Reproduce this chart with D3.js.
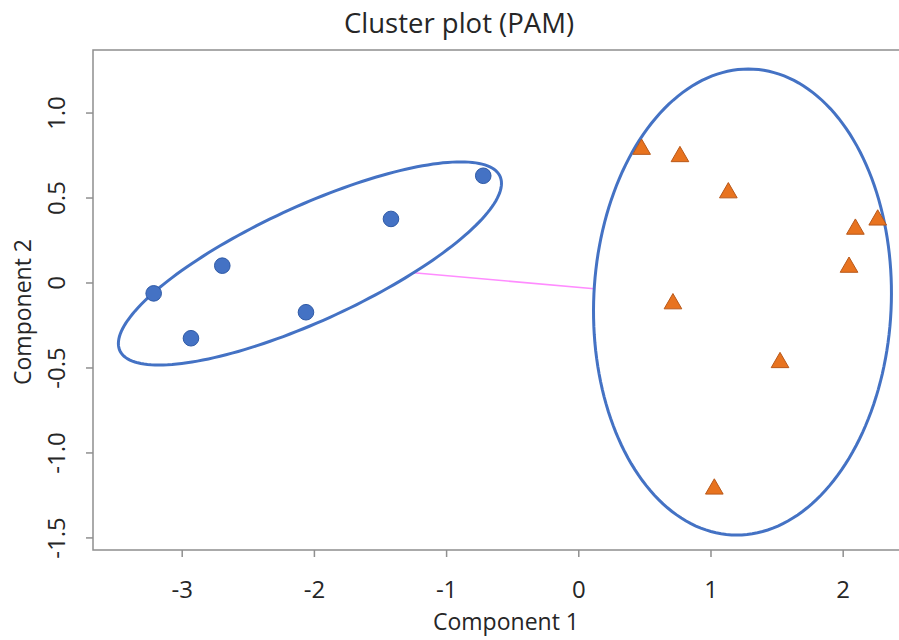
<!DOCTYPE html>
<html>
<head>
<meta charset="UTF-8">
<script src="https://cdn.jsdelivr.net/npm/d3@7"></script>
<style>
  body { margin: 0; background: #fff; }
  text { font-family: "Open Sans", sans-serif; fill: #262626; }
</style>
</head>
<body>
<div id="chart"></div>
<script>
// cluster 1 (circles)
var c1x = [-3.212, -2.930, -2.693, -2.060, -1.417, -0.719];
var c1y = [-0.064, -0.328, 0.099, -0.175, 0.374, 0.628];
// cluster 2 (triangles)
var c2x = [0.479, 0.769, 1.135, 2.265, 2.096, 2.048, 0.716, 1.526, 1.029];
var c2y = [0.784, 0.741, 0.528, 0.368, 0.314, 0.090, -0.125, -0.471, -1.215];
// spanning ellipses: center and two conjugate semi-axes (data units)
var ellCenters = [[-2.03, 0.112], [1.242, -0.115]];
var ellAxisA = [[1.449, 0.471], [1.126, 0]];
var ellAxisB = [[0, 0.368], [0.044, 1.371]];

var xTicks = [-3, -2, -1, 0, 1, 2];
var yTicks = [-1.5, -1.0, -0.5, 0, 0.5, 1.0];

var width = 899, height = 640;
var padL = 93, padR = 899, padT = 50, padB = 550;

var svg = d3.select("#chart").append("svg")
    .attr("width", width)
    .attr("height", height);

var x = d3.scaleLinear().domain([-3.671, 2.426]).range([padL, padR]);
var y = d3.scaleLinear().domain([-1.574, 1.368]).range([padB, padT]);

// frame (right side is cut off)
svg.append("path")
    .attr("d", "M" + padR + "," + padT + "H" + padL + "V" + padB + "H" + padR)
    .attr("fill", "none")
    .attr("stroke", "#8f8f8f")
    .attr("stroke-width", 1.5);

var fmt = function (d) { return d === 0 ? "0" : d3.format(".1f")(d).replace("−", "-"); };

var xAxis = svg.append("g")
    .attr("transform", "translate(0," + padB + ")")
    .call(d3.axisBottom(x).tickValues(xTicks).tickSize(7)
        .tickFormat(function (d) { return String(d).replace("−", "-"); }));
xAxis.select(".domain").remove();
xAxis.selectAll("line").attr("stroke", "#8f8f8f").attr("stroke-width", 1.5);
xAxis.selectAll("text")
    .attr("y", 48).attr("dy", 0)
    .style("font-size", "24px")
    .style("font-family", "'Open Sans', sans-serif")
    .attr("fill", "#262626");

var yAxis = svg.append("g")
    .attr("transform", "translate(" + padL + ",0)")
    .call(d3.axisLeft(y).tickValues(yTicks).tickSize(7).tickFormat(fmt));
yAxis.select(".domain").remove();
yAxis.selectAll("line").attr("stroke", "#8f8f8f").attr("stroke-width", 1.5);
yAxis.selectAll("text")
    .attr("transform", "rotate(-90)")
    .attr("x", 0).attr("y", -28).attr("dy", 0)
    .attr("text-anchor", "middle")
    .style("font-size", "24px")
    .style("font-family", "'Open Sans', sans-serif")
    .attr("fill", "#262626");

// titles
svg.append("text")
    .attr("x", 459).attr("y", 33)
    .attr("text-anchor", "middle")
    .style("font-size", "27.5px")
    .text("Cluster plot (PAM)");

svg.append("text")
    .attr("x", 506).attr("y", 630)
    .attr("text-anchor", "middle")
    .style("font-size", "23px")
    .text("Component 1");

svg.append("text")
    .attr("transform", "translate(31,312) rotate(-90)")
    .attr("text-anchor", "middle")
    .style("font-size", "23px")
    .text("Component 2");

// ellipse outline points
function ellipsePts(i) {
    var c = ellCenters[i], a = ellAxisA[i], b = ellAxisB[i];
    return d3.range(0, 361, 2).map(function (deg) {
        var t = deg * Math.PI / 180;
        return [c[0] + a[0] * Math.cos(t) + b[0] * Math.sin(t),
                c[1] + a[1] * Math.cos(t) + b[1] * Math.sin(t)];
    });
}

// where the line between centres leaves ellipse i
function exitPoint(i, dx, dy) {
    var a = ellAxisA[i], b = ellAxisB[i], c = ellCenters[i];
    var det = a[0] * b[1] - a[1] * b[0];
    var al = (dx * b[1] - dy * b[0]) / det;
    var be = (a[0] * dy - a[1] * dx) / det;
    var s = 1 / Math.sqrt(al * al + be * be);
    return [c[0] + s * dx, c[1] + s * dy];
}

var ddx = ellCenters[1][0] - ellCenters[0][0];
var ddy = ellCenters[1][1] - ellCenters[0][1];
var p1 = exitPoint(0, ddx, ddy);
var p2 = exitPoint(1, -ddx, -ddy);

svg.append("line")
    .attr("x1", x(p1[0])).attr("y1", y(p1[1]))
    .attr("x2", x(p2[0])).attr("y2", y(p2[1]))
    .attr("stroke", "#ff8cff")
    .attr("stroke-width", 1.5);

var line = d3.line()
    .x(function (d) { return x(d[0]); })
    .y(function (d) { return y(d[1]); })
    .curve(d3.curveLinearClosed);

svg.selectAll(".ell")
    .data([0, 1])
    .enter()
    .append("path")
    .attr("class", "ell")
    .attr("d", function (i) { return line(ellipsePts(i)); })
    .attr("fill", "none")
    .attr("stroke", "#4472c4")
    .attr("stroke-width", 3);

svg.selectAll(".pt1")
    .data(c1x)
    .enter()
    .append("circle")
    .attr("class", "pt1")
    .attr("cx", function (d) { return x(d); })
    .attr("cy", function (d, i) { return y(c1y[i]); })
    .attr("r", 7.8)
    .attr("fill", "#4472c4")
    .attr("stroke", "#2f5aa6")
    .attr("stroke-width", 1);

var tri = d3.symbol().type(d3.symbolTriangle).size(135);
svg.selectAll(".pt2")
    .data(c2x)
    .enter()
    .append("path")
    .attr("class", "pt2")
    .attr("d", tri)
    .attr("transform", function (d, i) { return "translate(" + x(d) + "," + y(c2y[i]) + ")"; })
    .attr("fill", "#e8731f")
    .attr("stroke", "#b8581a")
    .attr("stroke-width", 1);
</script>
</body>
</html>
